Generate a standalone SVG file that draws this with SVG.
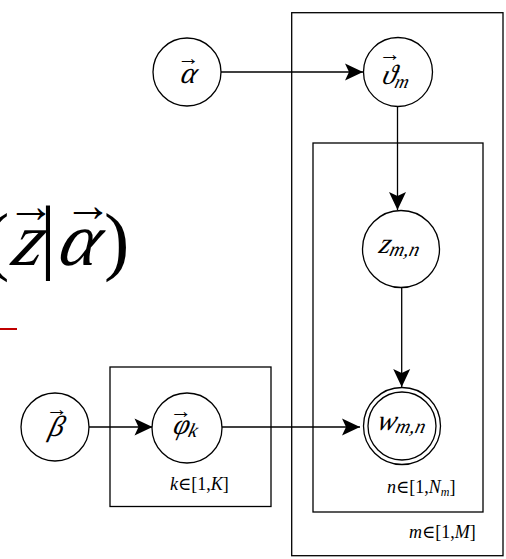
<svg xmlns="http://www.w3.org/2000/svg" width="506" height="559" viewBox="0 0 506 559">
<style>
.plate{fill:none;stroke:#000;stroke-width:1.3}
.node{fill:#fff;stroke:#000;stroke-width:1.3}
.edge{fill:none;stroke:#000;stroke-width:1.3}
.m{font-family:"Liberation Serif","DejaVu Serif",serif;font-style:italic;fill:#000}
.r{font-family:"Liberation Serif","DejaVu Serif",serif;font-style:normal;fill:#000}
.vec{font-family:"Liberation Serif","DejaVu Serif",serif;fill:#000;text-anchor:middle}
</style>
<defs>
<marker id="ah" markerUnits="userSpaceOnUse" markerWidth="22" markerHeight="20" viewBox="-20 -10 22 20" refX="0" refY="0" orient="auto">
<path d="M0,0 L-18,-8.5 L-14,0 L-18,8.5 Z" fill="#000"/>
</marker>
</defs>

<g id="formula">
<text class="r" x="-16" y="266" font-size="76">(</text>
<text class="m" transform="translate(10,265) skewX(-14)" font-size="76">z</text>
<text class="vec" x="31" y="222" font-size="48">→</text>
<text class="r" x="48" y="263" font-size="82" text-anchor="middle">|</text>
<text class="m" transform="translate(56,265) skewX(-14)" font-size="76">α</text>
<text class="vec" x="88" y="221" font-size="48">→</text>
<text class="r" x="104" y="266" font-size="76">)</text>
<line x1="0" y1="329" x2="17" y2="329" stroke="#c00000" stroke-width="2"/>
</g>

<g id="plate-m">
<rect class="plate" x="291.7" y="12.7" width="211.3" height="543"/>
<text class="m" x="409" y="538" font-size="18">m<tspan class="r">∈[1,</tspan>M<tspan class="r">]</tspan></text>
</g>
<g id="plate-n">
<rect class="plate" x="313" y="143" width="170" height="369"/>
<text class="m" x="387" y="493" font-size="18">n<tspan class="r">∈[1,</tspan>N<tspan font-size="12" dy="3">m</tspan><tspan class="r" dy="-3">]</tspan></text>
</g>
<g id="plate-k">
<rect class="plate" x="110" y="367" width="161" height="139.5"/>
<text class="m" x="170" y="490" font-size="18">k<tspan class="r">∈[1,</tspan>K<tspan class="r">]</tspan></text>
</g>

<g id="edges">
<line class="edge" x1="221" y1="72" x2="363" y2="72" marker-end="url(#ah)"/>
<line class="edge" x1="397.5" y1="106" x2="397.5" y2="210" marker-end="url(#ah)"/>
<line class="edge" x1="401.7" y1="288" x2="401.7" y2="387" marker-end="url(#ah)"/>
<line class="edge" x1="89" y1="427" x2="152.5" y2="427" marker-end="url(#ah)"/>
<line class="edge" x1="222" y1="427" x2="360" y2="427" marker-end="url(#ah)"/>
</g>

<g id="node-alpha">
<circle class="node" cx="187" cy="72" r="34"/>
<text class="m" transform="translate(187.5,83) skewX(-14)" font-size="30" text-anchor="middle">α</text>
<text class="vec" x="188.5" y="65" font-size="22">→</text>
</g>
<g id="node-theta">
<circle class="node" cx="398" cy="72" r="34.5"/>
<text class="m" transform="translate(381,84) skewX(-14)" font-size="28">ϑ<tspan font-size="19" dy="4">m</tspan></text>
<text class="vec" x="390" y="61" font-size="22">→</text>
</g>
<g id="node-z">
<circle class="node" cx="401" cy="249" r="38.5"/>
<text class="m" transform="translate(378,253) skewX(-14)" font-size="29">z<tspan font-size="20" dy="3">m,n</tspan></text>
</g>
<g id="node-w">
<circle class="node" cx="402" cy="426" r="38.5"/>
<circle class="node" cx="402" cy="426" r="34"/>
<text class="m" transform="translate(376,430) skewX(-14)" font-size="29">w<tspan font-size="20" dy="3">m,n</tspan></text>
</g>
<g id="node-beta">
<circle class="node" cx="55" cy="427" r="34"/>
<text class="m" transform="translate(55,436) skewX(-14)" font-size="29" text-anchor="middle">β</text>
<text class="vec" x="57" y="416" font-size="22">→</text>
</g>
<g id="node-phi">
<circle class="node" cx="187" cy="428" r="35"/>
<text class="m" transform="translate(172,434) skewX(-14)" font-size="29">φ<tspan font-size="20" dy="3">k</tspan></text>
<text class="vec" x="181" y="418" font-size="22">→</text>
</g>
</svg>
